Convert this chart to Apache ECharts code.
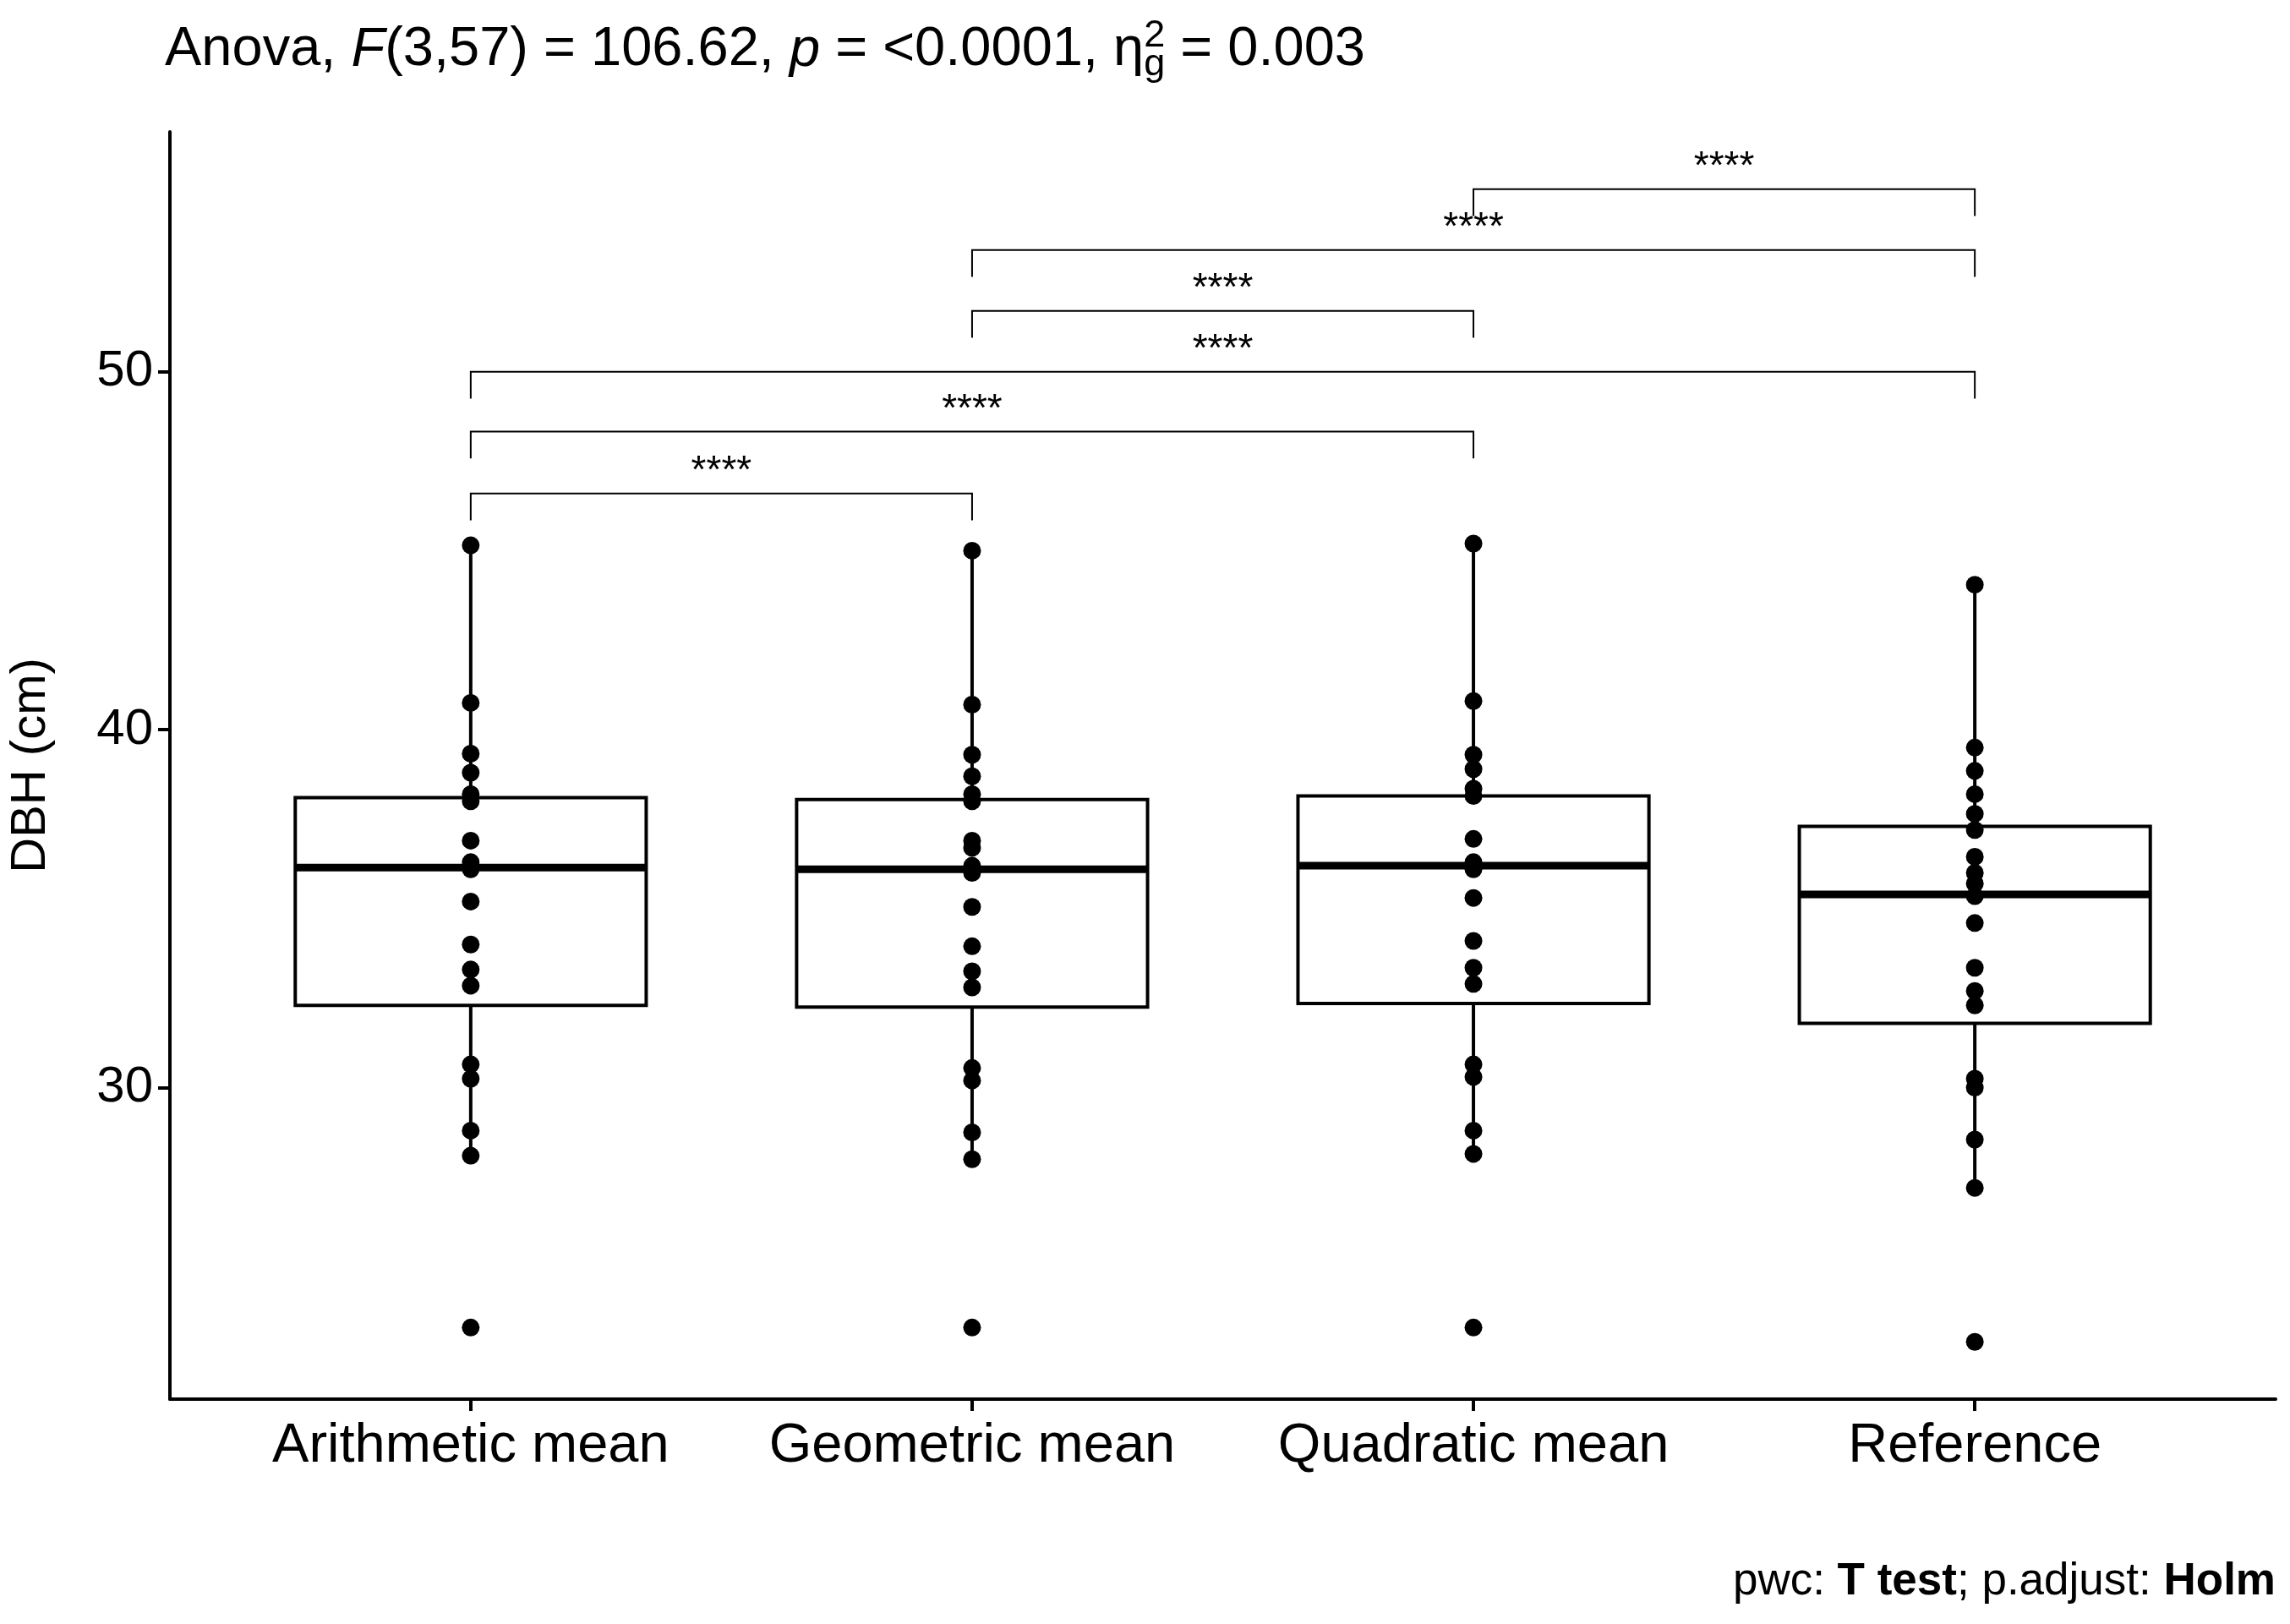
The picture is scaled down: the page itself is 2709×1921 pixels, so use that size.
<!DOCTYPE html>
<html>
<head>
<meta charset="utf-8">
<script src="https://cdn.jsdelivr.net/npm/echarts@6/dist/echarts.min.js"></script>
<style>html,body{margin:0;background:#fff}#c{width:2709px;height:1921px}</style>
</head>
<body>
<div id="c"></div>
<script>
var categories = ['Arithmetic mean', 'Geometric mean', 'Quadratic mean', 'Reference'];
var arithmetic = [45.15, 40.75, 39.33, 38.8, 38.2, 38.0, 36.9, 36.3, 36.1, 35.2, 34.0, 33.3, 32.85, 30.65, 30.25, 28.8, 28.1, 23.3];
var geometric = [45.0, 40.7, 39.3, 38.7, 38.2, 38.0, 36.9, 36.7, 36.2, 36.0, 35.05, 33.95, 33.25, 32.8, 30.55, 30.2, 28.75, 28.0, 23.3];
var quadratic = [45.2, 40.8, 39.3, 38.9, 38.35, 38.15, 36.95, 36.3, 36.1, 35.3, 34.1, 33.35, 32.9, 30.65, 30.3, 28.8, 28.15, 23.3];
var reference = [44.05, 39.5, 38.85, 38.2, 37.65, 37.2, 36.45, 36.0, 35.7, 35.35, 34.6, 33.35, 32.7, 32.3, 30.25, 30.0, 28.55, 27.2, 22.9];
// [whisker low, Q1, median, Q3, whisker high]
var boxStats = [
  [28.1, 32.3, 36.15, 38.1, 45.15],
  [28.0, 32.25, 36.1, 38.05, 45.0],
  [28.15, 32.35, 36.2, 38.15, 45.2],
  [27.2, 31.8, 35.4, 37.3, 44.05]
];
// [group a, group b, height, label]
var brackets = [
  [1, 2, 46.6, '****'],
  [1, 3, 48.33, '****'],
  [1, 4, 50.0, '****'],
  [2, 3, 51.7, '****'],
  [2, 4, 53.4, '****'],
  [3, 4, 55.1, '****']
];
var yTicks = [30, 40, 50];

var groups = [arithmetic, geometric, quadratic, reference];
var points = [];
groups.forEach(function (g, i) { g.forEach(function (v) { points.push([i + 1, v]); }); });
var boxData = boxStats.map(function (s, i) { return [i + 1].concat(s); });

var chart = echarts.init(document.getElementById('c'));
var font = 'Liberation Sans, Arial, sans-serif';
chart.setOption({
  animation: false,
  grid: { left: 195, right: 17, top: 156, bottom: 266 },
  xAxis: {
    type: 'value', min: 0.4, max: 4.6,
    splitLine: { show: false },
    axisLine: { lineStyle: { color: '#000', width: 4 } },
    axisTick: { length: 14, lineStyle: { color: '#000', width: 4 }, customValues: [1, 2, 3, 4] },
    axisLabel: { customValues: [1, 2, 3, 4], formatter: function (v) { return categories[Math.round(v) - 1]; },
      color: '#000', fontSize: 65, fontFamily: font, margin: 24 }
  },
  yAxis: {
    type: 'value', min: 21.3, max: 56.7,
    name: 'DBH (cm)', nameLocation: 'middle', nameGap: 135, nameRotate: 90,
    nameTextStyle: { color: '#000', fontSize: 58, fontFamily: font },
    splitLine: { show: false },
    axisLine: { lineStyle: { color: '#000', width: 4 } },
    axisTick: { length: 14, lineStyle: { color: '#000', width: 4 }, customValues: yTicks },
    axisLabel: { customValues: yTicks, color: '#000', fontSize: 60, fontFamily: font, margin: 20 }
  },
  graphic: [
    { type: 'text', left: 195, top: 20, style: {
      text: 'Anova, {i|F}(3,57) = 106.62, {i|p} = <0.0001, η{sub|g}{sup|2} = 0.003',
      fill: '#000', font: '65px ' + font,
      rich: {
        i: { fontStyle: 'italic', fontSize: 65, fontFamily: font },
        sub: { fontSize: 45, fontFamily: font, verticalAlign: 'bottom', padding: [34, 0, 0, 0] },
        sup: { fontSize: 45, fontFamily: font, verticalAlign: 'top', padding: [0, 0, 34, -25] }
      } } },
    { type: 'text', right: 17, top: 1845, style: {
      text: 'pwc: {b|T test}; p.adjust: {b|Holm}', fill: '#000', font: '53px ' + font,
      rich: { b: { fontWeight: 'bold', fontSize: 53, fontFamily: font } } } }
  ],
  series: [
    {
      type: 'custom', data: boxData, z: 2,
      renderItem: function (params, api) {
        var x = api.value(0), w = 0.35;
        var p = function (xx, yy) { return api.coord([xx, yy]); };
        var lo = p(x, api.value(1)), q1l = p(x - w, api.value(2)), q1r = p(x + w, api.value(2));
        var md = api.value(3), q3l = p(x - w, api.value(4)), hi = p(x, api.value(5));
        var q1c = p(x, api.value(2)), q3c = p(x, api.value(4));
        var ls = { stroke: '#000', lineWidth: 4, fill: 'none' };
        return { type: 'group', children: [
          { type: 'line', shape: { x1: lo[0], y1: lo[1], x2: q1c[0], y2: q1c[1] }, style: ls },
          { type: 'line', shape: { x1: q3c[0], y1: q3c[1], x2: hi[0], y2: hi[1] }, style: ls },
          { type: 'rect', shape: { x: q3l[0], y: q3l[1], width: q1r[0] - q3l[0], height: q1l[1] - q3l[1] },
            style: { stroke: '#000', lineWidth: 4, fill: '#fff' } },
          { type: 'line', shape: { x1: p(x - w, md)[0], y1: p(x, md)[1], x2: p(x + w, md)[0], y2: p(x, md)[1] },
            style: { stroke: '#000', lineWidth: 9 } }
        ] };
      }
    },
    {
      type: 'scatter', data: points, symbolSize: 21, z: 5,
      itemStyle: { color: '#000', opacity: 1 }
    },
    {
      type: 'custom', data: brackets, z: 3,
      renderItem: function (params, api) {
        var a = api.value(0), b = api.value(1), h = api.value(2);
        var pa = api.coord([a, h]), pb = api.coord([b, h]);
        var pa2 = api.coord([a, h - 0.75]), pb2 = api.coord([b, h - 0.75]);
        var ls = { stroke: '#000', lineWidth: 2, fill: 'none' };
        return { type: 'group', children: [
          { type: 'polyline', shape: { points: [pa2, pa, pb, pb2] }, style: ls },
          { type: 'text', style: { text: brackets[params.dataIndex][3], x: (pa[0] + pb[0]) / 2, y: pa[1] - 2,
            align: 'center', verticalAlign: 'bottom', fill: '#000', font: '46px ' + font } }
        ] };
      }
    }
  ]
});
</script>
</body>
</html>
